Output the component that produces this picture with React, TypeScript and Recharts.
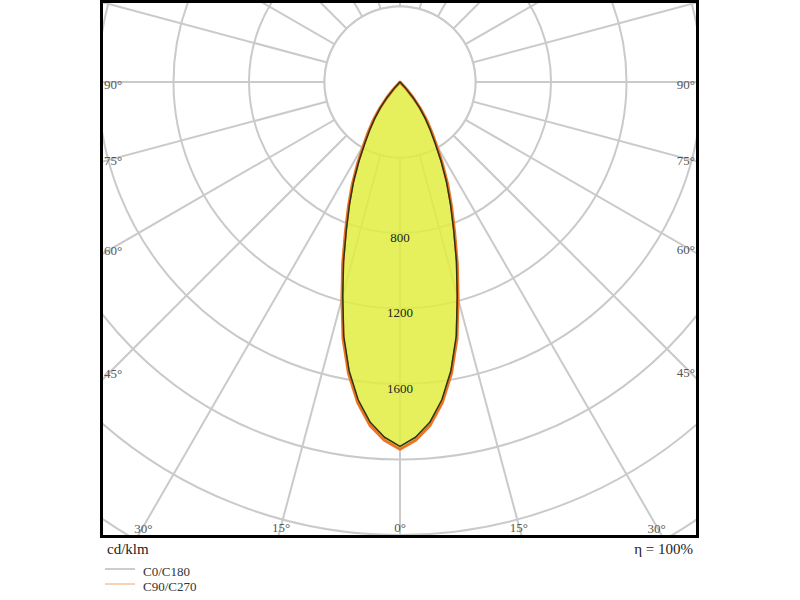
import { RadarChart, Radar, PolarGrid, PolarAngleAxis, PolarRadiusAxis } from "recharts";

const FONT = '"Liberation Serif", "Times New Roman", Times, serif';

// photometric angle from nadir (deg) and intensity (cd/klm)
const LOBE_ANGLES = [0, 2.5, 5, 7.5, 10, 12.5, 15, 17.5, 20, 22.5, 25, 27.5, 30, 32.5, 35, 37.5, 40, 42.5, 45];
const C0_C180 = [1930, 1884, 1810, 1698, 1553, 1378, 1172, 994, 830, 698, 582, 470, 370, 294, 229, 165, 100, 42, 0];
const C90_C270 = [1946, 1900, 1826, 1714, 1569, 1394, 1188, 1010, 846, 714, 598, 486, 386, 310, 245, 180, 114, 54, 0];

const ANGLE_STEP = 2.5;
const RADIUS_DOMAIN = [0, 2800];
const INNER_RING = 400;
const RADIUS_LABELS = [800, 1200, 1600];
const ANGLE_LABELS = [0, 15, 30, 45, 60, 75, 90];
const GRID_ANGLES = Array.from({ length: 24 }, (_, i) => i * 15);

const SERIES = [
  { key: "c0", name: "C0/C180", color: "#9a9a9a" },
  { key: "c90", name: "C90/C270", color: "#f3a266" },
];
const UNIT = "cd/klm";
const EFFICIENCY = "η = 100%";

// frame inner size and polar centre (px inside frame)
const W = 593;
const H = 532;
const CX = 297;
const CY = 79;
const OUTER = 528.5;

const GRID = "#cacaca";
const RAD = Math.PI / 180;

const data = Array.from({ length: 360 / ANGLE_STEP }, (_, i) => {
  const angle = i * ANGLE_STEP;
  const gamma = angle <= 180 ? angle : 360 - angle;
  const k = LOBE_ANGLES.indexOf(gamma);
  return { angle, c0: k >= 0 ? C0_C180[k] : 0, c90: k >= 0 ? C90_C270[k] : 0 };
});

function AngleTick(props: any) {
  const { payload, x, y } = props;
  const angle = Number(payload?.value);
  const gamma = angle <= 180 ? angle : 360 - angle;
  if (!ANGLE_LABELS.includes(gamma)) return null;
  let ux: number;
  let uy: number;
  if (typeof payload?.coordinate === "number") {
    ux = Math.cos(-payload.coordinate * RAD);
    uy = Math.sin(-payload.coordinate * RAD);
  } else {
    const d = Math.hypot(x - CX, y - CY) || 1;
    ux = (x - CX) / d;
    uy = (y - CY) / d;
  }
  // where the ray leaves the frame
  let t = Infinity;
  let edge = "bottom";
  if (ux > 1e-6 && (W - CX) / ux < t) {
    t = (W - CX) / ux;
    edge = "right";
  }
  if (ux < -1e-6 && -CX / ux < t) {
    t = -CX / ux;
    edge = "left";
  }
  if (uy > 1e-6 && (H - CY) / uy < t) {
    t = (H - CY) / uy;
    edge = "bottom";
  }
  const ty = CY + uy * (t - 10) + 2;
  let tx = CX + ux * (t - 10);
  let anchor: "start" | "middle" | "end" = "middle";
  if (edge === "left") {
    tx = 1;
    anchor = "start";
  } else if (edge === "right") {
    tx = W - 1;
    anchor = "end";
  }
  return (
    <text
      x={tx}
      y={ty}
      textAnchor={anchor}
      dominantBaseline="central"
      fontSize={13}
      fontFamily={FONT}
      fill="#555"
    >
      {gamma}°
    </text>
  );
}

function RadiusTick(props: any) {
  const { x, y, payload } = props;
  if (!RADIUS_LABELS.includes(payload?.value)) return null;
  return (
    <text
      x={x}
      y={y + 4}
      textAnchor="middle"
      dominantBaseline="central"
      fontSize={13}
      fontFamily={FONT}
      fill="#222"
    >
      {payload.value}
    </text>
  );
}

export default function App() {
  return (
    <div
      style={{
        position: "absolute",
        left: 0,
        top: 0,
        width: 800,
        height: 600,
        background: "#fff",
        fontFamily: FONT,
        color: "#333",
      }}
    >
      <div
        style={{
          position: "absolute",
          left: 100,
          top: 0,
          width: W + 6,
          height: H + 6,
          border: "3px solid #000",
          boxSizing: "border-box",
        }}
      >
        <div style={{ width: W, height: H, overflow: "hidden" }}>
          <RadarChart
            width={W}
            height={H}
            data={data}
            cx={CX}
            cy={CY}
            outerRadius={OUTER}
            startAngle={-90}
            endAngle={-450}
            margin={{ top: 0, right: 0, bottom: 0, left: 0 }}
          >
            <PolarGrid
              gridType="circle"
              polarAngles={GRID_ANGLES}
              stroke={GRID}
              strokeWidth={2}
              fill="none"
            />
            <Radar
              dataKey={() => INNER_RING}
              stroke={GRID}
              strokeWidth={2}
              fill="#fff"
              fillOpacity={1}
              dot={false}
              isAnimationActive={false}
            />
            <Radar
              dataKey="c90"
              name="C90/C270"
              stroke="#eb7424"
              strokeWidth={3}
              fill="#e2ed40"
              fillOpacity={0.85}
              strokeLinejoin="round"
              dot={false}
              isAnimationActive={false}
            />
            <Radar
              dataKey="c0"
              name="C0/C180"
              stroke="#2e3314"
              strokeWidth={1.5}
              fill="none"
              strokeLinejoin="round"
              dot={false}
              isAnimationActive={false}
            />
            <PolarAngleAxis
              dataKey="angle"
              axisLine={false}
              tickLine={false}
              tick={<AngleTick />}
            />
            <PolarRadiusAxis
              angle={-90}
              domain={RADIUS_DOMAIN}
              tickCount={8}
              axisLine={false}
              tickLine={false}
              tick={<RadiusTick />}
            />
          </RadarChart>
        </div>
      </div>

      <div style={{ position: "absolute", left: 107, top: 539, fontSize: 15, lineHeight: "20px", color: "#222" }}>
        {UNIT}
      </div>
      <div
        style={{
          position: "absolute",
          right: 800 - 693,
          top: 539,
          fontSize: 15,
          lineHeight: "20px",
          color: "#222",
        }}
      >
        {EFFICIENCY}
      </div>

      {SERIES.map((s, i) => (
        <div
          key={s.key}
          style={{ position: "absolute", left: 105, top: 563 + i * 15, height: 18, display: "flex", alignItems: "center" }}
        >
          <svg width={30} height={18} style={{ display: "block" }}>
            <line x1={0} x2={30} y1={6} y2={6} stroke={s.color} strokeWidth={1} />
          </svg>
          <span style={{ marginLeft: 8, fontSize: 13, lineHeight: "18px", color: "#333" }}>{s.name}</span>
        </div>
      ))}
    </div>
  );
}
